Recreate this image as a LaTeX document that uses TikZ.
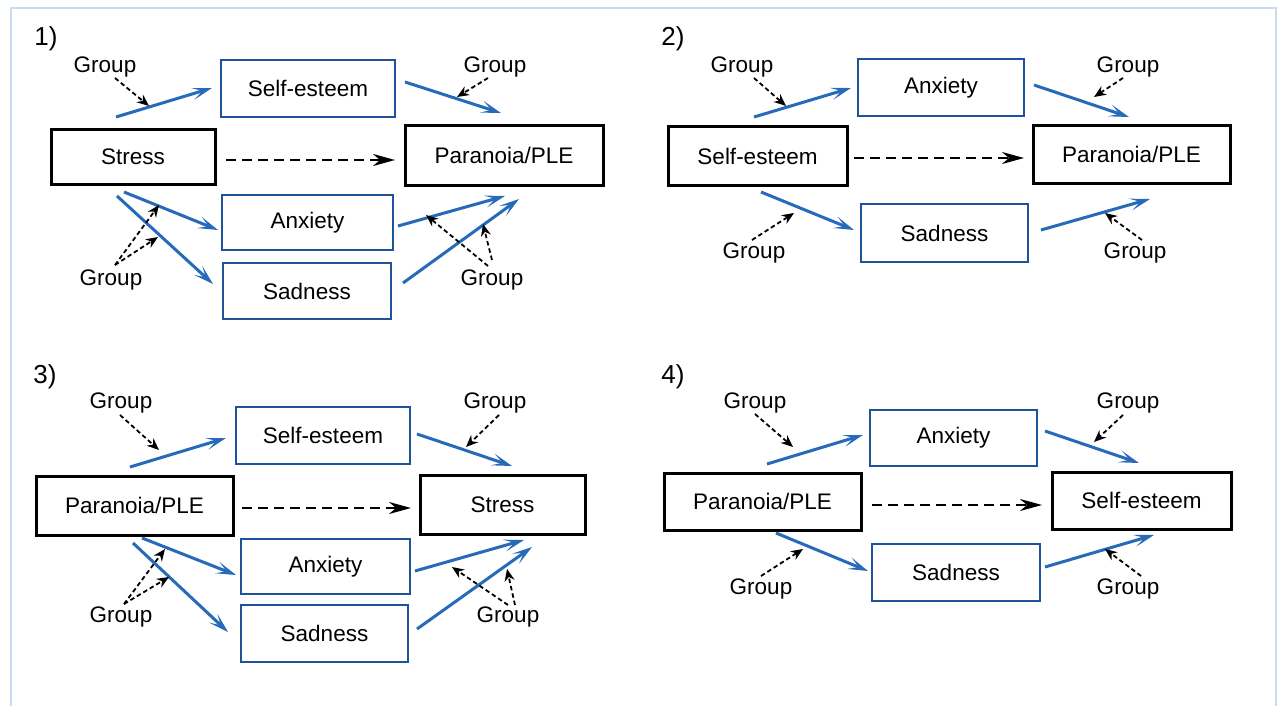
\documentclass[tikz,border=0pt]{standalone}
\usepackage{fontspec}
\setmainfont{Liberation Sans}
\usetikzlibrary{arrows.meta}
\definecolor{arrblue}{RGB}{40,106,186}
\definecolor{boxblue}{RGB}{30,82,154}
\definecolor{frameblue}{RGB}{204,219,242}
\begin{document}
\begin{tikzpicture}[x=1pt,y=-1pt,
 txt/.style={font=\fontsize{22.5}{27}\selectfont, inner sep=0pt},
 blk/.style={draw=black, line width=3pt, txt},
 blu/.style={draw=boxblue, line width=2.5pt, txt},
 grp/.style={txt},
 num/.style={font=\fontsize{26}{30}\selectfont, inner sep=0pt},
 bluearr/.style={draw=arrblue, line width=3pt, -{Stealth[length=20pt,width=12pt,inset=10pt]}},
 grparr/.style={draw=black, line width=1.8pt, dash pattern=on 4.5pt off 3pt, -{Stealth[length=12pt,width=10pt]}},
 dirarr/.style={draw=black, line width=2.2pt, dash pattern=on 10pt off 6pt, -{Stealth[length=22pt,width=12pt,inset=7pt]}}
]
\useasboundingbox[fill=white] (0,0) rectangle (1277,706);
\draw[frameblue, line width=2.5pt] (11,706) -- (11,8) -- (1276,8) -- (1276,706);

% ---------------- Panel 1 ----------------
\node[num] (n1) at (46,39) {1)};
\node[blu, minimum width=174pt, minimum height=57pt] (p1se) at (308,88.5) {Self-esteem};
\node[blk, minimum width=164pt, minimum height=54pt] (p1st) at (133,157) {Stress};
\node[blk, minimum width=198pt, minimum height=59pt] (p1pa) at (504,155.5) {Paranoia/PLE};
\node[blu, minimum width=171pt, minimum height=55pt] (p1an) at (307.5,222.5) {Anxiety};
\node[blu, minimum width=168pt, minimum height=56pt] (p1sa) at (307,291) {Sadness};
\node[grp] (p1g1) at (105,67) {Group};
\node[grp] (p1g2) at (495,67) {Group};
\node[grp] (p1g3) at (111,280) {Group};
\node[grp] (p1g4) at (492,280) {Group};
\coordinate (p1a1s) at (116,117); \coordinate (p1a1e) at (212,88);
\coordinate (p1a2s) at (405,82);  \coordinate (p1a2e) at (501,113);
\coordinate (p1a3s) at (124,192); \coordinate (p1a3e) at (218,230);
\coordinate (p1a4s) at (117,196); \coordinate (p1a4e) at (213,284);
\coordinate (p1a5s) at (398,226); \coordinate (p1a5e) at (505,196);
\coordinate (p1a6s) at (403,283); \coordinate (p1a6e) at (519,199);
\draw[bluearr] (p1a1s) -- (p1a1e);
\draw[bluearr] (p1a2s) -- (p1a2e);
\draw[bluearr] (p1a3s) -- (p1a3e);
\draw[bluearr] (p1a4s) -- (p1a4e);
\draw[bluearr] (p1a5s) -- (p1a5e);
\draw[bluearr] (p1a6s) -- (p1a6e);
\coordinate (p1d1s) at (115,78);  \coordinate (p1d1e) at (149,106);
\coordinate (p1d2s) at (488,78);  \coordinate (p1d2e) at (457,97);
\coordinate (p1d3s) at (115,265); \coordinate (p1d3e) at (159,205);
\coordinate (p1d4e) at (158,237);
\coordinate (p1d5s) at (488,266); \coordinate (p1d5e) at (426,215);
\coordinate (p1d6s) at (492,260); \coordinate (p1d6e) at (483,224);
\draw[grparr] (p1d1s) -- (p1d1e);
\draw[grparr] (p1d2s) -- (p1d2e);
\draw[grparr] (p1d3s) -- (p1d3e);
\draw[grparr] (p1d3s) -- (p1d4e);
\draw[grparr] (p1d5s) -- (p1d5e);
\draw[grparr] (p1d6s) -- (p1d6e);
\coordinate (p1ms) at (226,160); \coordinate (p1me) at (395,160);
\draw[dirarr] (p1ms) -- (p1me);

% ---------------- Panel 2 ----------------
\node[num] (n2) at (673,39) {2)};
\node[blu, minimum width=166pt, minimum height=57pt] (p2an) at (941,87.5) {Anxiety};
\node[blk, minimum width=179pt, minimum height=58pt] (p2se) at (757.5,156) {Self-esteem};
\node[blk, minimum width=197pt, minimum height=57pt] (p2pa) at (1131.5,154.5) {Paranoia/PLE};
\node[blu, minimum width=167pt, minimum height=58pt] (p2sa) at (944.5,233) {Sadness};
\node[grp] (p2g1) at (742,67) {Group};
\node[grp] (p2g2) at (1128,67) {Group};
\node[grp] (p2g3) at (754,253) {Group};
\node[grp] (p2g4) at (1135,253) {Group};
\coordinate (p2a1s) at (754,117);  \coordinate (p2a1e) at (851,88);
\coordinate (p2a2s) at (1034,85);  \coordinate (p2a2e) at (1129,117);
\coordinate (p2a3s) at (761,192);  \coordinate (p2a3e) at (854,230);
\coordinate (p2a4s) at (1041,230); \coordinate (p2a4e) at (1150,199);
\draw[bluearr] (p2a1s) -- (p2a1e);
\draw[bluearr] (p2a2s) -- (p2a2e);
\draw[bluearr] (p2a3s) -- (p2a3e);
\draw[bluearr] (p2a4s) -- (p2a4e);
\coordinate (p2d1s) at (754,78);   \coordinate (p2d1e) at (786,106);
\coordinate (p2d2s) at (1123,78);  \coordinate (p2d2e) at (1094,97);
\coordinate (p2d3s) at (752,240);  \coordinate (p2d3e) at (794,213);
\coordinate (p2d4s) at (1142,240); \coordinate (p2d4e) at (1105,213);
\draw[grparr] (p2d1s) -- (p2d1e);
\draw[grparr] (p2d2s) -- (p2d2e);
\draw[grparr] (p2d3s) -- (p2d3e);
\draw[grparr] (p2d4s) -- (p2d4e);
\coordinate (p2ms) at (854,158); \coordinate (p2me) at (1024,158);
\draw[dirarr] (p2ms) -- (p2me);

% ---------------- Panel 3 ----------------
\node[num] (n3) at (45,377) {3)};
\node[blu, minimum width=174pt, minimum height=57pt] (p3se) at (323,435.5) {Self-esteem};
\node[blk, minimum width=197pt, minimum height=59pt] (p3pa) at (134.5,505.5) {Paranoia/PLE};
\node[blk, minimum width=165pt, minimum height=59pt] (p3st) at (502.5,504.5) {Stress};
\node[blu, minimum width=169pt, minimum height=55pt] (p3an) at (325.5,566.5) {Anxiety};
\node[blu, minimum width=167pt, minimum height=57pt] (p3sa) at (324.5,633.5) {Sadness};
\node[grp] (p3g1) at (121,403) {Group};
\node[grp] (p3g2) at (495,403) {Group};
\node[grp] (p3g3) at (121,617) {Group};
\node[grp] (p3g4) at (508,617) {Group};
\coordinate (p3a1s) at (130,467); \coordinate (p3a1e) at (226,438);
\coordinate (p3a2s) at (417,434); \coordinate (p3a2e) at (512,466);
\coordinate (p3a3s) at (142,538); \coordinate (p3a3e) at (236,575);
\coordinate (p3a4s) at (133,543); \coordinate (p3a4e) at (228,632);
\coordinate (p3a5s) at (415,571); \coordinate (p3a5e) at (524,540);
\coordinate (p3a6s) at (417,629); \coordinate (p3a6e) at (532,547);
\draw[bluearr] (p3a1s) -- (p3a1e);
\draw[bluearr] (p3a2s) -- (p3a2e);
\draw[bluearr] (p3a3s) -- (p3a3e);
\draw[bluearr] (p3a4s) -- (p3a4e);
\draw[bluearr] (p3a5s) -- (p3a5e);
\draw[bluearr] (p3a6s) -- (p3a6e);
\coordinate (p3d1s) at (120,415); \coordinate (p3d1e) at (159,450);
\coordinate (p3d2s) at (499,415); \coordinate (p3d2e) at (466,447);
\coordinate (p3d3s) at (124,604); \coordinate (p3d3e) at (165,549);
\coordinate (p3d4e) at (169,577);
\coordinate (p3d5s) at (508,605); \coordinate (p3d5e) at (452,567);
\coordinate (p3d6s) at (515,605); \coordinate (p3d6e) at (507,569);
\draw[grparr] (p3d1s) -- (p3d1e);
\draw[grparr] (p3d2s) -- (p3d2e);
\draw[grparr] (p3d3s) -- (p3d3e);
\draw[grparr] (p3d3s) -- (p3d4e);
\draw[grparr] (p3d5s) -- (p3d5e);
\draw[grparr] (p3d6s) -- (p3d6e);
\coordinate (p3ms) at (242,508); \coordinate (p3me) at (411,508);
\draw[dirarr] (p3ms) -- (p3me);

% ---------------- Panel 4 ----------------
\node[num] (n4) at (673,377) {4)};
\node[blu, minimum width=167pt, minimum height=56pt] (p4an) at (953.5,438) {Anxiety};
\node[blk, minimum width=197pt, minimum height=57pt] (p4pa) at (762.5,501.5) {Paranoia/PLE};
\node[blk, minimum width=179pt, minimum height=57pt] (p4se) at (1141.5,500.5) {Self-esteem};
\node[blu, minimum width=168pt, minimum height=57pt] (p4sa) at (956,572.5) {Sadness};
\node[grp] (p4g1) at (755,403) {Group};
\node[grp] (p4g2) at (1128,403) {Group};
\node[grp] (p4g3) at (761,589) {Group};
\node[grp] (p4g4) at (1128,589) {Group};
\coordinate (p4a1s) at (767,464);  \coordinate (p4a1e) at (863,435);
\coordinate (p4a2s) at (1045,431); \coordinate (p4a2e) at (1139,463);
\coordinate (p4a3s) at (776,533);  \coordinate (p4a3e) at (868,571);
\coordinate (p4a4s) at (1045,567); \coordinate (p4a4e) at (1154,535);
\draw[bluearr] (p4a1s) -- (p4a1e);
\draw[bluearr] (p4a2s) -- (p4a2e);
\draw[bluearr] (p4a3s) -- (p4a3e);
\draw[bluearr] (p4a4s) -- (p4a4e);
\coordinate (p4d1s) at (755,414);  \coordinate (p4d1e) at (793,447);
\coordinate (p4d2s) at (1123,415); \coordinate (p4d2e) at (1094,442);
\coordinate (p4d3s) at (761,576);  \coordinate (p4d3e) at (803,549);
\coordinate (p4d4s) at (1141,576); \coordinate (p4d4e) at (1105,549);
\draw[grparr] (p4d1s) -- (p4d1e);
\draw[grparr] (p4d2s) -- (p4d2e);
\draw[grparr] (p4d3s) -- (p4d3e);
\draw[grparr] (p4d4s) -- (p4d4e);
\coordinate (p4ms) at (872,505); \coordinate (p4me) at (1042,505);
\draw[dirarr] (p4ms) -- (p4me);
\end{tikzpicture}
\end{document}
